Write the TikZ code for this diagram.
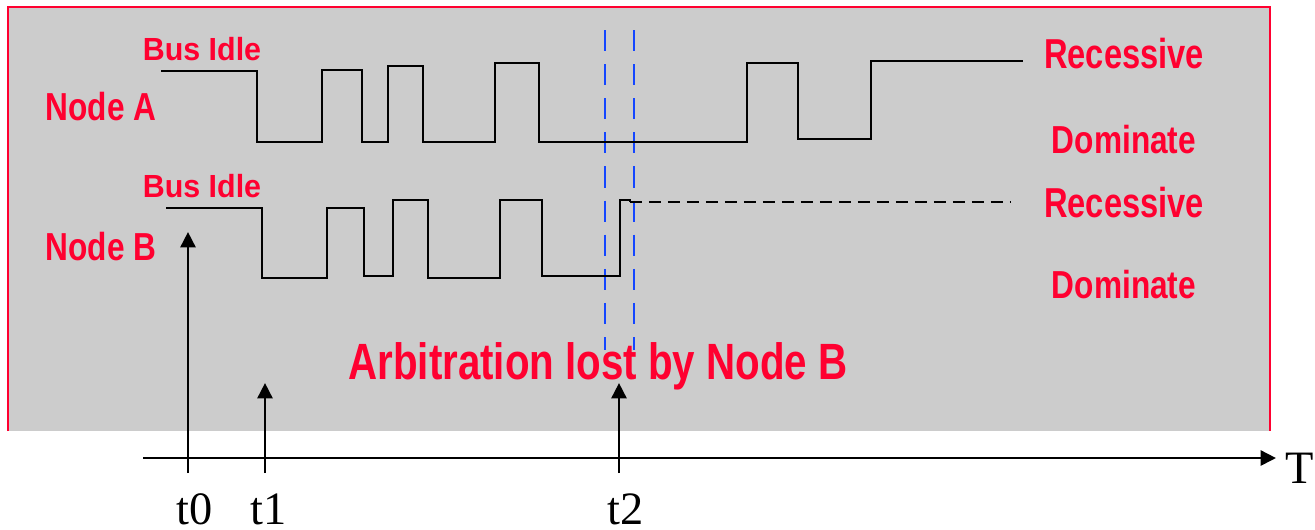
\documentclass[tikz,border=0pt]{standalone}
\usepackage{fontspec}
\usepackage{graphicx}
\setmainfont{Liberation Serif}
\newfontfamily\redfont{Liberation Sans}
\usetikzlibrary{arrows.meta}
\definecolor{redtxt}{RGB}{255,0,48}
\definecolor{boxgray}{RGB}{204,204,204}
\definecolor{bluedash}{RGB}{20,70,255}
\newcommand\squeeze[2]{\scalebox{#1}[1]{#2}}
\tikzset{
  wave/.style={line width=0.6pt, black},
  lbl/.style={text=redtxt, anchor=base, inner sep=0pt},
  marker/.style={line width=0.75pt, -{Triangle[length=4.4pt,width=4.3pt]}},
  timelbl/.style={anchor=base, inner sep=0pt, font=\fontsize{13.2pt}{14pt}\selectfont},
}
\begin{document}
\begin{tikzpicture}[x=0.01cm,y=-0.01cm]
\useasboundingbox (0,0) rectangle (1315,529);
% background panel
\fill[boxgray] (8,7) rectangle (1271,431);
\draw[redtxt, line width=0.6pt] (8,431) -- (8,7) -- (1270,7) -- (1270,431);
% blue arbitration markers
\draw[bluedash, line width=0.6pt, dash pattern=on 6pt off 3.7pt] (605,30) -- (605,350);
\draw[bluedash, line width=0.6pt, dash pattern=on 6pt off 3.7pt] (634,30) -- (634,350);
% Node A waveform
\draw[wave] (161,71) -- (257,71) -- (257,142) -- (322,142) -- (322,70) -- (362,70) -- (362,142)
  -- (388,142) -- (388,66) -- (423,66) -- (423,142) -- (495,142) -- (495,63) -- (539,63)
  -- (539,142) -- (747,142) -- (747,63) -- (798,63) -- (798,139) -- (871,139) -- (871,61) -- (1023,61);
% Node B waveform
\draw[wave] (166,208) -- (262,208) -- (262,278) -- (327,278) -- (327,208) -- (364,208) -- (364,276)
  -- (393,276) -- (393,200) -- (428,200) -- (428,278) -- (500,278) -- (500,200) -- (542,200)
  -- (542,276) -- (620,276) -- (620,200) -- (630,200) -- (630,202);
\draw[wave, dash pattern=on 3.4pt off 2pt] (630,202) -- (1010,202);
% red labels
\node[lbl, font=\redfont\bfseries\fontsize{9.1pt}{10pt}\selectfont] (idleA) at (202,60) {\squeeze{0.95}{Bus Idle}};
\node[lbl, font=\redfont\bfseries\fontsize{9.1pt}{10pt}\selectfont] (idleB) at (202,197) {\squeeze{0.95}{Bus Idle}};
\node[lbl, font=\redfont\bfseries\fontsize{11.1pt}{12pt}\selectfont] (nodeA) at (101,120) {\squeeze{0.81}{Node A}};
\node[lbl, font=\redfont\bfseries\fontsize{11.1pt}{12pt}\selectfont] (nodeB) at (101,260) {\squeeze{0.81}{Node B}};
\node[lbl, font=\redfont\bfseries\fontsize{11.9pt}{12pt}\selectfont] (recA) at (1124,68) {\squeeze{0.78}{Recessive}};
\node[lbl, font=\redfont\bfseries\fontsize{11.1pt}{12pt}\selectfont] (domA) at (1124,153) {\squeeze{0.81}{Dominate}};
\node[lbl, font=\redfont\bfseries\fontsize{11.9pt}{12pt}\selectfont] (recB) at (1124,217) {\squeeze{0.78}{Recessive}};
\node[lbl, font=\redfont\bfseries\fontsize{11.1pt}{12pt}\selectfont] (domB) at (1124,298) {\squeeze{0.81}{Dominate}};
\node[lbl, font=\redfont\bfseries\fontsize{14.5pt}{15pt}\selectfont] (lost) at (598,379) {\squeeze{0.79}{Arbitration lost by Node B}};
% time axis
\coordinate (axL) at (143,458);
\coordinate (axR) at (1276,458);
\draw[marker] (axL) -- (axR);
\node[timelbl, anchor=base west] (T) at (1285,483) {T};
% time markers
\coordinate (t0b) at (188,473);
\coordinate (t0h) at (188,232);
\coordinate (t1b) at (265,473);
\coordinate (t1h) at (265,383);
\coordinate (t2b) at (619,473);
\coordinate (t2h) at (619,383);
\draw[marker] (t0b) -- (t0h);
\draw[marker] (t1b) -- (t1h);
\draw[marker] (t2b) -- (t2h);
\node[timelbl] (t0) at (195,524) {t0};
\node[timelbl] (t1) at (269,524) {t1};
\node[timelbl] (t2) at (626,524) {t2};
\end{tikzpicture}
\end{document}
